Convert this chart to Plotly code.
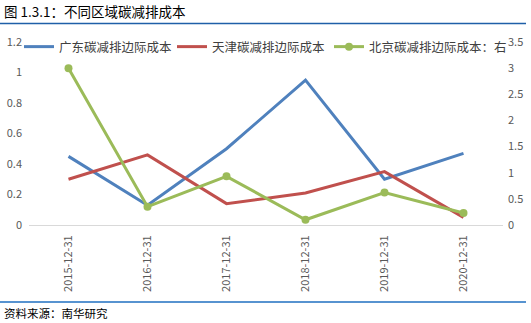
import plotly.graph_objects as go

categories = ["2015-12-31", "2016-12-31", "2017-12-31", "2018-12-31", "2019-12-31", "2020-12-31"]
guangdong = [0.45, 0.13, 0.50, 0.95, 0.30, 0.47]
tianjin = [0.30, 0.46, 0.14, 0.21, 0.35, 0.05]
beijing = [3.0, 0.35, 0.93, 0.10, 0.62, 0.23]
left_ticks = [0, 0.2, 0.4, 0.6, 0.8, 1, 1.2]
right_ticks = [0, 0.5, 1, 1.5, 2, 2.5, 3, 3.5]

W, H = 531, 323
FONT = "Noto Sans CJK SC, Microsoft YaHei, sans-serif"

fig = go.Figure()
fig.add_trace(go.Scatter(x=categories, y=guangdong, name="广东碳减排边际成本", mode="lines",
                         line=dict(color="#4F81BD", width=3), legend="legend"))
fig.add_trace(go.Scatter(x=categories, y=tianjin, name="天津碳减排边际成本", mode="lines",
                         line=dict(color="#C0504D", width=3), legend="legend"))
fig.add_trace(go.Scatter(x=categories, y=beijing, name="北京碳减排边际成本：右", mode="lines+markers",
                         line=dict(color="#9BBB59", width=3), marker=dict(size=8, color="#9BBB59"),
                         yaxis="y2", legend="legend2"))

x0, x1 = 29 / W, 503 / W
yb, yt = (H - 225) / H, (H - 42) / H

leg_common = dict(orientation="h", y=(H - 47) / H, yanchor="middle", xanchor="left",
                  font=dict(size=12.5, color="#404040"), bgcolor="rgba(0,0,0,0)",
                  itemwidth=30, tracegroupgap=0)

fig.update_layout(
    width=W, height=H,
    margin=dict(l=0, r=0, t=0, b=0, autoexpand=False),
    paper_bgcolor="white", plot_bgcolor="white",
    font=dict(family=FONT, size=11, color="#595959"),
    showlegend=True,
    legend=dict(x=19 / W, entrywidth=108, **leg_common),
    legend2=dict(x=329 / W, **leg_common),
    xaxis=dict(domain=[x0, x1], type="category", range=[-0.5, 5.5], tickangle=-90, showgrid=False,
               showline=True, linecolor="#D9D9D9", linewidth=1, ticks="", automargin=False,
               ticklabelstandoff=5,
               tickfont=dict(size=11, color="#595959"), fixedrange=True),
    yaxis=dict(range=[0, 1.2], tickvals=left_ticks, ticktext=[f"{v:g}" for v in left_ticks],
               domain=[yb, yt], showgrid=False, zeroline=False, showline=False, ticks="",
               automargin=False, ticklabelstandoff=6, tickfont=dict(size=11, color="#595959")),
    yaxis2=dict(range=[0, 3.5], tickvals=right_ticks, ticktext=[f"{v:g}" for v in right_ticks],
                overlaying="y", side="right", showgrid=False, zeroline=False, showline=False,
                ticks="", automargin=False, ticklabelstandoff=4,
                tickfont=dict(size=11, color="#595959")),
)

fig.add_annotation(text="图 1.3.1：不同区域碳减排成本", xref="paper", yref="paper",
                   x=2 / W, y=(H - 11) / H, xanchor="left", yanchor="middle", showarrow=False,
                   font=dict(family=FONT, size=13.5, color="#000000"))
fig.add_annotation(text="资料来源：南华研究", xref="paper", yref="paper",
                   x=2 / W, y=(H - 313) / H, xanchor="left", yanchor="middle", showarrow=False,
                   font=dict(family=FONT, size=11.5, color="#000000"))
fig.add_shape(type="line", xref="paper", yref="paper", x0=0, x1=526 / W,
              y0=(H - 23.5) / H, y1=(H - 23.5) / H, line=dict(color="#1F5FA8", width=1.5))
fig.add_shape(type="line", xref="paper", yref="paper", x0=0, x1=526 / W,
              y0=(H - 302) / H, y1=(H - 302) / H, line=dict(color="#1F6FC0", width=1.5))

fig.write_html("out.html")
